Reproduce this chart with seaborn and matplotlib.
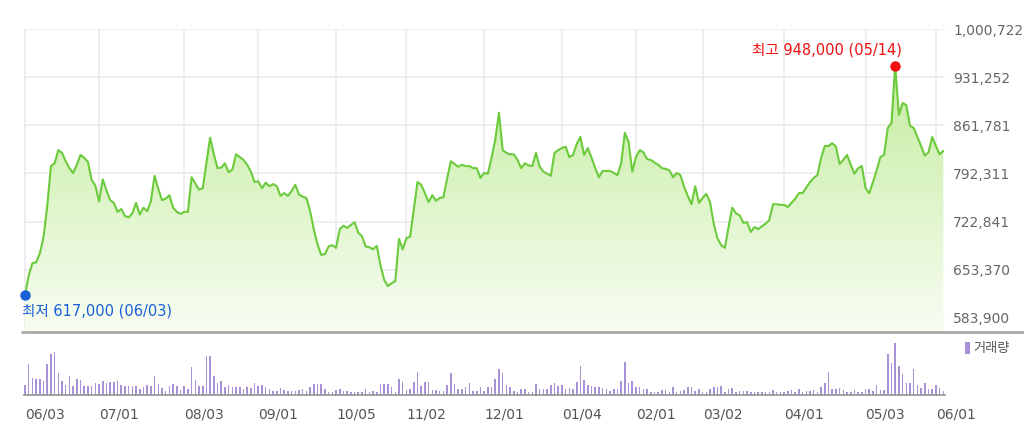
import numpy as np
import pandas as pd
import seaborn as sns
import matplotlib.pyplot as plt
from matplotlib.colors import LinearSegmentedColormap
from matplotlib.lines import Line2D

# Style
sns.set_style("white")
plt.rcParams["font.family"] = ["DejaVu Sans", "Noto Sans CJK KR"]

# ============================
# DATA
# ============================

# KRX trading days 2020-06-03 .. 2021-06-03
start_date, end_date = "2020-06-03", "2021-06-03"
krx_holidays = ["2020-08-17", "2020-09-30", "2020-10-01", "2020-10-02", "2020-10-09",
                "2020-12-25", "2020-12-31", "2021-01-01", "2021-02-11", "2021-02-12",
                "2021-03-01", "2021-05-05", "2021-05-19"]

# daily close, thousand won
close_k = [
    617, 645, 663, 664, 677, 700, 745, 803, 807, 826,
    822, 810, 800, 793, 805, 819, 815, 809, 783, 775,
    752, 784, 768, 754, 750, 737, 741, 731, 729, 735,
    750, 733, 743, 738, 752, 789, 770, 754, 756, 761,
    743, 737, 734, 737, 737, 787, 778, 769, 771, 808,
    844, 820, 800, 801, 807, 794, 798, 820, 816, 812,
    805, 795, 780, 781, 771, 779, 774, 777, 774, 760,
    764, 760, 767, 776, 762, 759, 757, 738, 712, 690,
    675, 676, 687, 689, 685, 712, 717, 714, 718, 722,
    707, 702, 687, 686, 683, 688, 660, 639, 630, 634,
    637, 698, 683, 699, 701, 740, 780, 776, 764, 751,
    761, 753, 757, 758, 785, 810, 806, 802, 805, 803,
    803, 800, 800, 786, 793, 792, 815, 841, 880, 826,
    822, 820, 820, 812, 800, 807, 804, 803, 822, 802,
    795, 792, 789, 822, 826, 829, 831, 816, 819, 835,
    845, 819, 829, 815, 800, 787, 796, 796, 796, 793,
    790, 807, 851, 838, 795, 816, 826, 823, 813, 812,
    808, 805, 800, 799, 797, 787, 793, 790, 773, 760,
    748, 774, 750, 757, 763, 751, 720, 699, 689, 685,
    715, 743, 735, 732, 721, 722, 708, 715, 712, 716,
    720, 725, 748, 748, 747, 747, 744, 750, 756, 764,
    764, 772, 780, 786, 790, 815, 832, 832, 836, 831,
    806, 812, 819, 805, 792, 800, 803, 771, 764, 780,
    797, 816, 819, 858, 865, 948, 877, 894, 891, 861,
    858, 845, 832, 818, 823, 845, 832, 820, 825,
]

# daily volume (relative units)
volume = [
    10, 31, 17, 16, 16, 14, 31, 41, 43, 22,
    14, 10, 19, 9, 16, 15, 9, 9, 9, 12,
    11, 14, 12, 13, 13, 14, 10, 9, 9, 9,
    9, 6, 8, 10, 9, 19, 11, 7, 4, 9,
    11, 9, 5, 9, 6, 28, 15, 9, 9, 39,
    39, 19, 12, 14, 8, 10, 8, 8, 8, 6,
    8, 7, 12, 9, 10, 8, 6, 4, 4, 7,
    5, 4, 4, 4, 5, 6, 4, 8, 11, 11,
    11, 6, 3, 3, 5, 6, 4, 4, 3, 3,
    3, 3, 6, 3, 4, 3, 11, 11, 11, 8,
    3, 16, 13, 5, 6, 13, 23, 9, 13, 13,
    5, 5, 4, 4, 10, 22, 11, 6, 6, 8,
    12, 4, 4, 8, 4, 8, 8, 16, 26, 22,
    10, 8, 4, 3, 6, 6, 3, 3, 11, 6,
    6, 6, 10, 12, 9, 10, 6, 7, 6, 13,
    29, 15, 10, 9, 8, 8, 7, 6, 4, 6,
    6, 14, 33, 12, 14, 8, 8, 6, 6, 3,
    3, 3, 5, 5, 3, 8, 3, 4, 5, 8,
    8, 4, 6, 3, 3, 6, 8, 8, 9, 3,
    6, 7, 3, 4, 4, 4, 3, 3, 3, 3,
    3, 3, 5, 3, 3, 3, 4, 5, 3, 6,
    3, 4, 4, 5, 3, 8, 12, 23, 6, 6,
    7, 5, 3, 3, 5, 3, 3, 6, 6, 4,
    10, 5, 5, 41, 32, 52, 29, 21, 12, 12,
    26, 10, 7, 12, 6, 6, 10, 7, 4,
]

price_ticks = [583900, 653370, 722841, 792311, 861781, 931252, 1000722]

# ============================
# PREP
# ============================
dates = pd.bdate_range(start_date, end_date, freq="C", holidays=krx_holidays)
df = pd.DataFrame({"date": dates, "price": np.array(close_k) * 1000, "volume": volume})
df["idx"] = np.arange(len(df))

first_of_month = df.groupby(df["date"].dt.to_period("M"))["idx"].min().values
tick_labels = [d.strftime("%m/%d") for d in df.loc[first_of_month, "date"]]

lo = int(df["price"].idxmin())
hi = int(df["price"].idxmax())

# ============================
# FIGURE
# ============================
W, H = 1024, 438
fig = plt.figure(figsize=(W / 100, H / 100), dpi=100)
left, right = 23.5 / W, 944.8 / W
ax = fig.add_axes([left, (H - 332) / H, right - left, (332 - 29) / H])
axv = fig.add_axes([left, (H - 395) / H, right - left, (395 - 340) / H])

ybot, ytop = 563700, 1000722
xlim = (-0.4, len(df) - 0.6)

# ---- price: gradient area + line
cmap = LinearSegmentedColormap.from_list("grn", ["#f8fdf3", "#bdea93"])
area = ax.fill_between(df["idx"], df["price"], ybot, color="none", lw=0)
grad = ax.imshow(np.linspace(0, 1, 256).reshape(-1, 1), cmap=cmap, aspect="auto",
                 origin="lower", extent=[0, len(df) - 1, ybot, ytop], zorder=1)
grad.set_clip_path(area.get_paths()[0], transform=ax.transData)

sns.lineplot(data=df, x="idx", y="price", color="#6ccb3c", linewidth=1.5, ax=ax, zorder=3)

ax.plot(lo, df.loc[lo, "price"], "o", color="#1a5fd8", ms=6.5, zorder=5, clip_on=False)
ax.annotate(f"최저 {df.loc[lo, 'price']:,} ({df.loc[lo, 'date']:%m/%d})",
            (lo, df.loc[lo, "price"]), xytext=(-2.5, -6), textcoords="offset points",
            ha="left", va="top", color="#1a5fd8", fontsize=10.5)
ax.plot(hi, df.loc[hi, "price"], "o", color="#f01010", ms=6.5, zorder=5, clip_on=False)
ax.annotate(f"최고 {df.loc[hi, 'price']:,} ({df.loc[hi, 'date']:%m/%d})",
            (hi, df.loc[hi, "price"]), xytext=(5, 6), textcoords="offset points",
            ha="right", va="bottom", color="#f01010", fontsize=10.5)

ax.set_xlim(xlim)
ax.set_ylim(ybot, ytop)
ax.set_xticks(first_of_month)
ax.set_yticks(price_ticks)
ax.set_yticklabels([f"{v:,}" for v in price_ticks])
ax.yaxis.tick_right()
ax.grid(True, color="#ebebeb", lw=1.2)
ax.tick_params(axis="x", length=0, labelbottom=False)
ax.tick_params(axis="y", length=0, pad=6, labelsize=10, labelcolor="#666666")
ax.set_xlabel("")
ax.set_ylabel("")
for s in ax.spines.values():
    s.set_visible(False)

# separator under price panel
fig.add_artist(Line2D([22 / W, 1.0], [(H - 332) / H] * 2, color="#a9a9a9", lw=2))

# ---- volume bars
sns.barplot(data=df, x="idx", y="volume", native_scale=True, color="#a792d8",
            saturation=1, width=0.42, linewidth=0, label="거래량", ax=axv)
axv.set_xlim(xlim)
axv.set_ylim(0, 55)
axv.set_yticks([])
axv.set_xticks(first_of_month)
axv.set_xticklabels(tick_labels, ha="left")
axv.tick_params(axis="x", direction="out", length=5, width=1, color="#999999",
                pad=4, labelsize=10, labelcolor="#555555")
axv.set_xlabel("")
axv.set_ylabel("")
for name, s in axv.spines.items():
    s.set_visible(name == "bottom")
axv.spines["bottom"].set_color("#9a9a9a")
axv.spines["bottom"].set_linewidth(1.3)

axv.legend(loc="upper left", bbox_to_anchor=(965 / W, (H - 342) / H),
           bbox_transform=fig.transFigure, frameon=False, fontsize=9.5,
           labelcolor="#555555", handlelength=0.35, handleheight=1.0,
           handletextpad=0.3, borderpad=0, borderaxespad=0)

fig.savefig("out.png", dpi=100)
